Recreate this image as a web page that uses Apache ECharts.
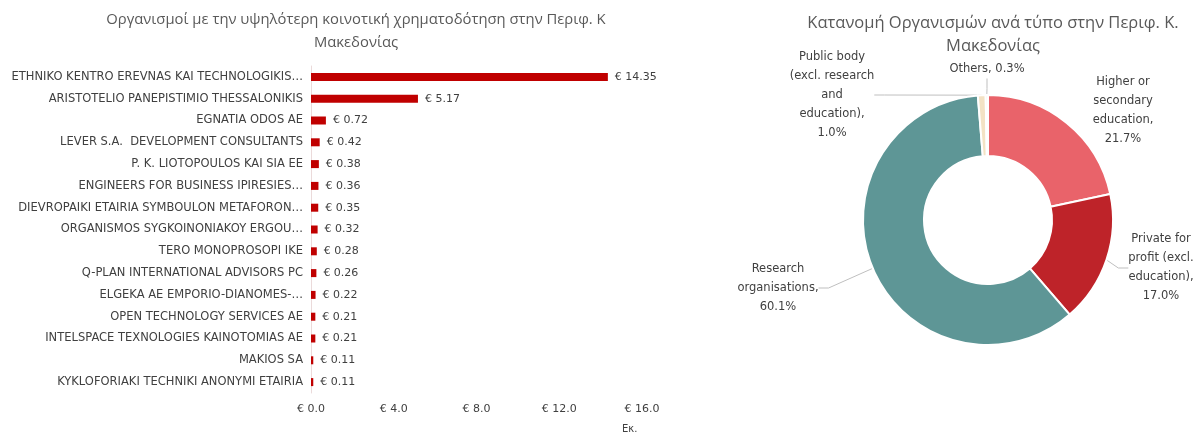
<!DOCTYPE html>
<html>
<head>
<meta charset="utf-8">
<script src="https://cdn.jsdelivr.net/npm/echarts@6/dist/echarts.min.js"></script>
<style>
html,body{margin:0;padding:0;background:#fff;}
#chart{width:1201px;height:439px;}
</style>
</head>
<body>
<div id="chart"></div>
<script>
// ---- Data ----
var barTitle = 'Οργανισμοί με την υψηλότερη κοινοτική χρηματοδότηση στην Περιφ. Κ\nΜακεδονίας';
var pieTitle = 'Κατανομή Οργανισμών ανά τύπο στην Περιφ. Κ.\nΜακεδονίας';

var organisations = [
  'ETHNIKO KENTRO EREVNAS KAI TECHNOLOGIKIS…',
  'ARISTOTELIO PANEPISTIMIO THESSALONIKIS',
  'EGNATIA ODOS AE',
  'LEVER S.A.  DEVELOPMENT CONSULTANTS',
  'P. K. LIOTOPOULOS KAI SIA EE',
  'ENGINEERS FOR BUSINESS IPIRESIES…',
  'DIEVROPAIKI ETAIRIA SYMBOULON METAFORON…',
  'ORGANISMOS SYGKOINONIAKOY ERGOU…',
  'TERO MONOPROSOPI IKE',
  'Q-PLAN INTERNATIONAL ADVISORS PC',
  'ELGEKA AE EMPORIO-DIANOMES-…',
  'OPEN TECHNOLOGY SERVICES AE',
  'INTELSPACE TEXNOLOGIES KAINOTOMIAS AE',
  'MAKIOS SA',
  'KYKLOFORIAKI TECHNIKI ANONYMI ETAIRIA'
];
var funding = [14.35, 5.17, 0.72, 0.42, 0.38, 0.36, 0.35, 0.32, 0.28, 0.26, 0.22, 0.21, 0.21, 0.11, 0.11];
var xTicks = [0, 4, 8, 12, 16];
var xAxisName = 'Εκ.';

var orgTypes = [
  'Higher or secondary education',
  'Private for profit (excl. education)',
  'Research organisations',
  'Public body (excl. research and education)',
  'Others'
];
var orgTypeLabels = [
  'Higher or\nsecondary\neducation,',
  'Private for\nprofit (excl.\neducation),',
  'Research\norganisations,',
  'Public body\n(excl. research\nand\neducation),',
  'Others,'
];
var orgTypeShares = [21.7, 17.0, 60.1, 1.0, 0.3];

// ---- Styles / layout ----
var pieColors = ['#E9636A', '#BE2329', '#5E9696', '#F3E2C4', '#FAF0DC'];
var pieLabelPos = [
  {x: 1123, y: 111},
  {x: 1161, y: 268},
  {x: 778,  y: 288},
  {x: 832,  y: 95},
  {x: 987,  y: 69}
];
var pieLabelLineShow = [false, true, true, true, true];
var txt = '#404040';
var ff = 'DejaVu Sans';

var chart = echarts.init(document.getElementById('chart'));
chart.setOption({
  animation: false,
  title: [
    {text: barTitle, left: 351, top: 3, textAlign: 'center',
     textStyle: {fontFamily: 'Open Sans', fontSize: 14.8, fontWeight: 'normal', color: '#595959', lineHeight: 23}},
    {text: pieTitle, left: 988, top: 7, textAlign: 'center',
     textStyle: {fontFamily: 'Open Sans', fontSize: 16.5, fontWeight: 'normal', color: '#595959', lineHeight: 23}}
  ],
  grid: {left: 311, top: 66, width: 331, height: 327, containLabel: false},
  xAxis: {
    type: 'value', min: 0, max: 16, interval: 4,
    axisLine: {show: false}, axisTick: {show: false}, splitLine: {show: false},
    axisLabel: {margin: 11, fontFamily: ff, fontSize: 11, color: txt,
      formatter: function (v) { return '€ ' + v.toFixed(1); }}
  },
  yAxis: {
    type: 'category', inverse: true, data: organisations,
    axisLine: {show: true, lineStyle: {color: '#EBDADA', width: 1}},
    axisTick: {show: false},
    axisLabel: {margin: 8, fontFamily: ff, fontSize: 11.5, color: txt}
  },
  graphic: [
    {type: 'text', left: 622, top: 424, style: {text: xAxisName, fontFamily: ff, fontSize: 10, fill: txt}}
  ],
  series: [
    {
      type: 'bar', data: funding, barWidth: 8,
      itemStyle: {color: '#C00000'},
      label: {show: true, position: 'right', distance: 7, fontFamily: ff, fontSize: 11, color: txt,
        formatter: function (p) { return '€ ' + p.value.toFixed(2); }}
    },
    {
      type: 'pie', center: [988, 220], radius: [64, 125], startAngle: 90, clockwise: true,
      data: orgTypes.map(function (n, i) {
        return {name: n, value: orgTypeShares[i], itemStyle: {color: pieColors[i]}, labelLine: {show: pieLabelLineShow[i]}};
      }),
      itemStyle: {borderColor: '#fff', borderWidth: 2},
      label: {show: true, position: 'outside', overflow: 'none', fontFamily: ff, fontSize: 11.5, color: txt, lineHeight: 19, align: 'center',
        formatter: function (p) { return orgTypeLabels[p.dataIndex] + (p.dataIndex === 4 ? ' ' : '\n') + p.value.toFixed(1) + '%'; }},
      labelLine: {show: true, length: 10, length2: 10, lineStyle: {color: '#BFBFBF', width: 1}},
      labelLayout: function (p) {
        var pos = pieLabelPos[p.dataIndex];
        return {x: pos.x, y: pos.y, align: 'center', verticalAlign: 'middle'};
      },
      emphasis: {disabled: true}
    }
  ]
});
</script>
</body>
</html>
